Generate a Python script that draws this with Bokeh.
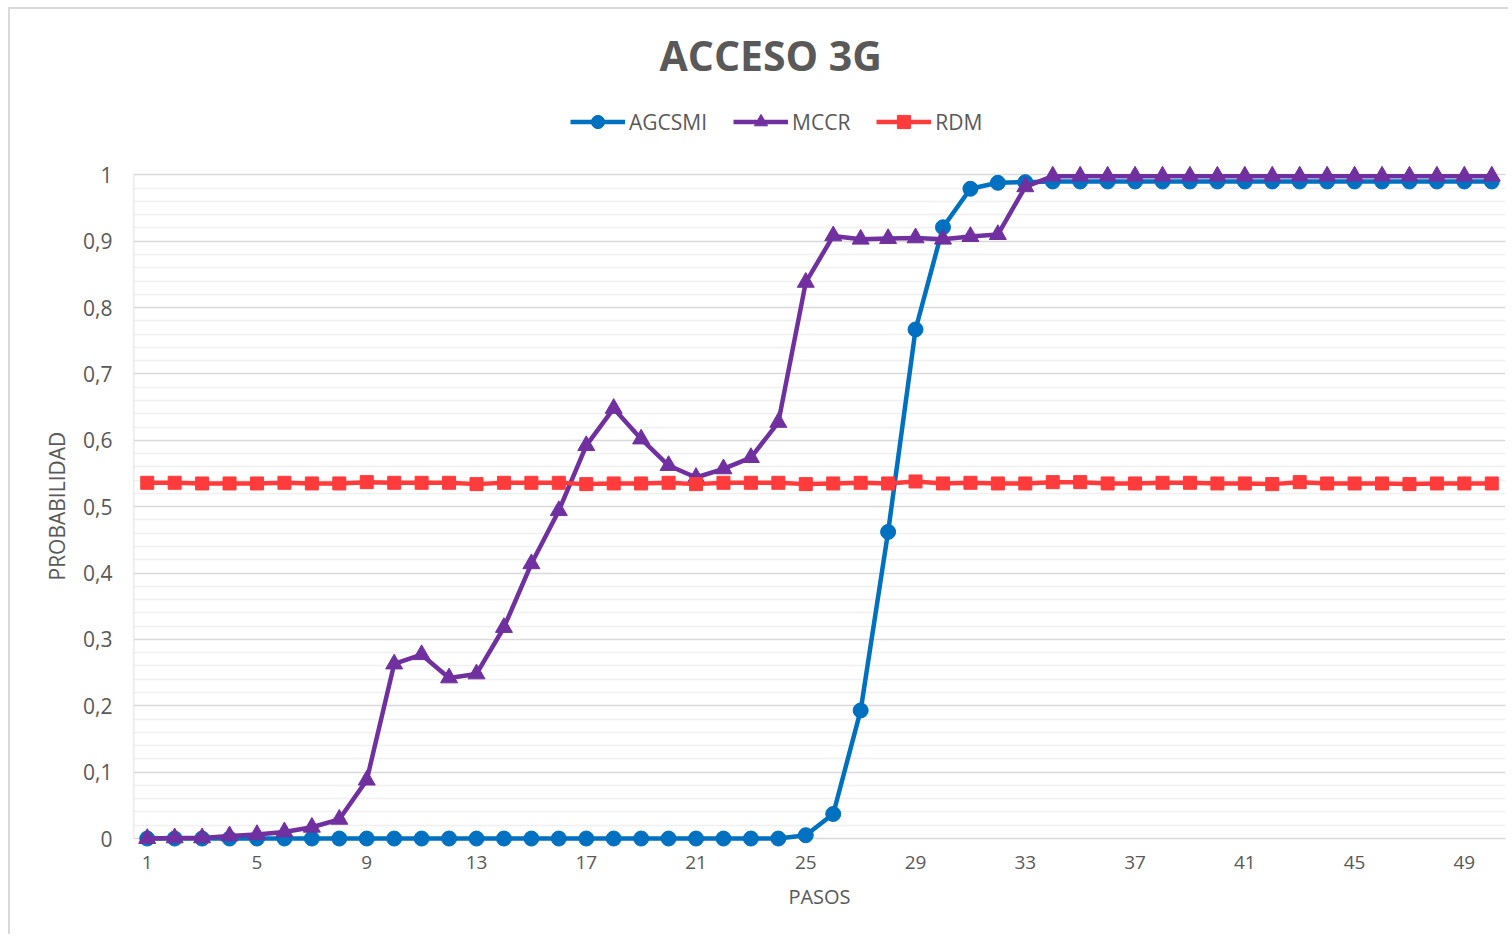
from bokeh.plotting import figure
from bokeh.models import Range1d, FixedTicker, Legend, LegendItem, Title
from bokeh.embed import file_html
from bokeh.resources import INLINE

# ---------------- data ----------------
TITLE = "ACCESO 3G"
X_LABEL = "PASOS"
Y_LABEL = "PROBABILIDAD"
SERIES_NAMES = ["AGCSMI", "MCCR", "RDM"]

pasos = [1, 2, 3, 4, 5, 6, 7, 8, 9, 10,
         11, 12, 13, 14, 15, 16, 17, 18, 19, 20,
         21, 22, 23, 24, 25, 26, 27, 28, 29, 30,
         31, 32, 33, 34, 35, 36, 37, 38, 39, 40,
         41, 42, 43, 44, 45, 46, 47, 48, 49, 50]

agcsmi = [0.000, 0.000, 0.000, 0.000, 0.000, 0.000, 0.000, 0.000, 0.000, 0.000,
          0.000, 0.000, 0.000, 0.000, 0.000, 0.000, 0.000, 0.000, 0.000, 0.000,
          0.000, 0.000, 0.000, 0.000, 0.005, 0.037, 0.193, 0.462, 0.767, 0.921,
          0.979, 0.988, 0.989, 0.990, 0.990, 0.990, 0.990, 0.990, 0.990, 0.990,
          0.990, 0.990, 0.990, 0.990, 0.990, 0.990, 0.990, 0.990, 0.990, 0.990]

mccr = [0.000, 0.001, 0.001, 0.004, 0.006, 0.010, 0.017, 0.029, 0.088, 0.263,
        0.277, 0.242, 0.248, 0.318, 0.414, 0.494, 0.592, 0.648, 0.602, 0.562,
        0.544, 0.557, 0.574, 0.627, 0.838, 0.908, 0.903, 0.904, 0.905, 0.903,
        0.907, 0.910, 0.982, 0.998, 0.998, 0.998, 0.998, 0.998, 0.998, 0.998,
        0.998, 0.998, 0.998, 0.998, 0.998, 0.998, 0.998, 0.998, 0.998, 0.998]

rdm = [0.536, 0.536, 0.535, 0.535, 0.535, 0.536, 0.535, 0.535, 0.537, 0.536,
       0.536, 0.536, 0.534, 0.536, 0.536, 0.536, 0.534, 0.535, 0.535, 0.536,
       0.534, 0.536, 0.536, 0.536, 0.534, 0.535, 0.536, 0.535, 0.538, 0.535,
       0.536, 0.535, 0.535, 0.537, 0.537, 0.535, 0.535, 0.536, 0.536, 0.535,
       0.535, 0.534, 0.537, 0.535, 0.535, 0.535, 0.534, 0.535, 0.535, 0.535]

x_ticks = [1, 5, 9, 13, 17, 21, 25, 29, 33, 37, 41, 45, 49]
x_tick_labels = ["1", "5", "9", "13", "17", "21", "25", "29", "33", "37", "41", "45", "49"]
y_ticks = [0, 0.1, 0.2, 0.3, 0.4, 0.5, 0.6, 0.7, 0.8, 0.9, 1]
y_tick_labels = ["0", "0,1", "0,2", "0,3", "0,4", "0,5", "0,6", "0,7", "0,8", "0,9", "1"]
y_minor = [0.02, 0.04, 0.06, 0.08, 0.12, 0.14, 0.16, 0.18, 0.22, 0.24, 0.26, 0.28,
           0.32, 0.34, 0.36, 0.38, 0.42, 0.44, 0.46, 0.48, 0.52, 0.54, 0.56, 0.58,
           0.62, 0.64, 0.66, 0.68, 0.72, 0.74, 0.76, 0.78, 0.82, 0.84, 0.86, 0.88,
           0.92, 0.94, 0.96, 0.98]
Y_MIN, Y_MAX = 0, 1

# ---------------- styles ----------------
FONT = "Open Sans"
TEXT_COLOR = "#595959"
BLUE, PURPLE, RED = "#0070C0", "#7030A0", "#FF3B3B"
MAJOR_GRID, MINOR_GRID = "#d9d9d9", "#f0f0f0"

X_MIN = pasos[0] - 0.5
X_MAX = pasos[-1] + 0.5
PAD_BOTTOM = 0.015
PAD_TOP = 0.112   # room inside the (invisible) frame for the legend row

p = figure(width=1500, height=927, output_backend="svg", toolbar_location=None,
           title=None,
           x_range=Range1d(X_MIN, X_MAX),
           y_range=Range1d(Y_MIN - PAD_BOTTOM, Y_MAX + PAD_TOP),
           min_border_left=123, min_border_right=5, min_border_top=91, min_border_bottom=88,
           styles={"margin-left": "8px", "margin-top": "7px",
                   "border-left": "2px solid #d9d9d9", "border-top": "2px solid #d9d9d9"})

p.outline_line_color = None
p.background_fill_color = "white"
p.border_fill_color = "white"

# grid
p.xgrid.visible = False
p.ygrid.ticker = FixedTicker(ticks=y_ticks, minor_ticks=y_minor)
p.ygrid.grid_line_color = MAJOR_GRID
p.ygrid.grid_line_width = 1.6
p.ygrid.minor_grid_line_color = MINOR_GRID
p.ygrid.minor_grid_line_width = 1.6

# axes
p.yaxis.ticker = FixedTicker(ticks=y_ticks, minor_ticks=y_minor)
p.yaxis.major_label_overrides = dict(zip(y_ticks, y_tick_labels))
p.xaxis.ticker = FixedTicker(ticks=x_ticks)
p.xaxis.major_label_overrides = dict(zip(x_ticks, x_tick_labels))

for ax in (p.xaxis[0], p.yaxis[0]):
    ax.axis_line_color = None
    ax.major_tick_line_color = None
    ax.minor_tick_line_color = None
    ax.major_tick_out = 0
    ax.major_tick_in = 0
    ax.minor_tick_out = 0
    ax.minor_tick_in = 0
    ax.major_label_text_font = FONT
    ax.major_label_text_color = TEXT_COLOR
    ax.axis_label_text_font = FONT
    ax.axis_label_text_color = TEXT_COLOR
    ax.axis_label_text_font_style = "normal"

p.xaxis.axis_label = X_LABEL
p.xaxis.major_label_text_font_size = "19px"
p.yaxis.major_label_text_font_size = "21px"
p.xaxis.axis_label_text_font_size = "20px"
p.xaxis.major_label_standoff = 7
p.yaxis.major_label_standoff = 21
p.xaxis.axis_label_standoff = 11

# y-axis title, centred on the 0..1 span (not on the padded frame)
ytitle = Title(text=Y_LABEL, align="left", offset=268, vertical_align="middle",
               standoff=17, text_font=FONT, text_font_style="normal",
               text_font_size="21px", text_color=TEXT_COLOR)
p.add_layout(ytitle, "left")

# vertical axis line (category axis start)
p.segment(x0=[X_MIN], y0=[Y_MIN], x1=[X_MIN], y1=[Y_MAX], line_color=MAJOR_GRID, line_width=1.6)

# series
l1 = p.line(pasos, agcsmi, line_color=BLUE, line_width=4.5)
m1 = p.scatter(pasos, agcsmi, marker="circle", size=15, fill_color=BLUE, line_color=BLUE)
l2 = p.line(pasos, mccr, line_color=PURPLE, line_width=4.5)
m2 = p.scatter(pasos, mccr, marker="triangle", size=17, fill_color=PURPLE, line_color=PURPLE)
l3 = p.line(pasos, rdm, line_color=RED, line_width=4.5)
m3 = p.scatter(pasos, rdm, marker="square", size=13, fill_color=RED, line_color=RED)

legend = Legend(items=[LegendItem(label=SERIES_NAMES[0], renderers=[l1, m1]),
                       LegendItem(label=SERIES_NAMES[1], renderers=[l2, m2]),
                       LegendItem(label=SERIES_NAMES[2], renderers=[l3, m3])],
                orientation="horizontal", location=(437, 710),
                padding=0, margin=0, spacing=26, label_standoff=4,
                glyph_width=55, glyph_height=33, label_height=33,
                label_text_font=FONT, label_text_font_size="21px",
                label_text_color=TEXT_COLOR, border_line_color=None,
                background_fill_alpha=0)
p.add_layout(legend)

title = Title(text=TITLE, align="left", offset=526, vertical_align="middle",
              standoff=33, text_font=FONT, text_font_style="bold",
              text_font_size="41px", text_color=TEXT_COLOR)
p.add_layout(title, "above")

open("out.html", "w").write(file_html(p, INLINE))
